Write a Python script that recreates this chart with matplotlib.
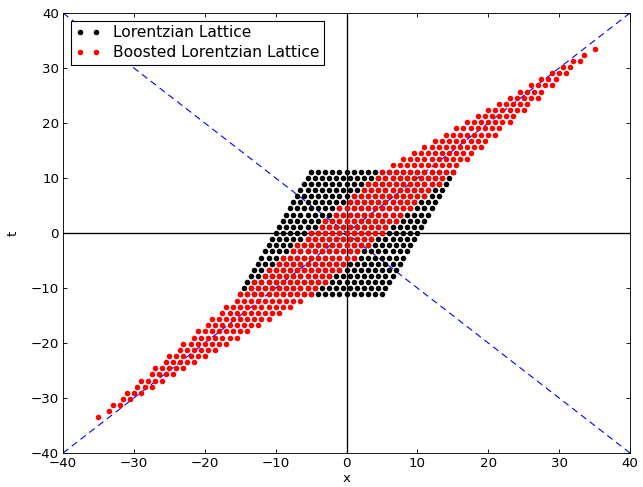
import numpy as np
import matplotlib
matplotlib.use("Agg")
import matplotlib.pyplot as plt

# lattice in light-cone coords: t + x = a + b*phi, t - x = -(a + b*phibar)
phi = (1 + np.sqrt(5)) / 2
phibar = (1 - np.sqrt(5)) / 2
a_range = np.arange(-10, 11)
b_range = np.arange(-10, 11)

# boost factor on the light cone (maps the lattice onto itself)
boost = phi ** 2

A, B = np.meshgrid(a_range, b_range)
u = A + B * phi
v = -(A + B * phibar)
x = (u - v) / 2
t = (u + v) / 2

ub = u * boost
vb = v / boost
xb = (ub - vb) / 2
tb = (ub + vb) / 2

fig = plt.figure(figsize=(643 / 80, 487 / 80), dpi=80)
ax = fig.add_axes([63 / 643, 34 / 487, 567 / 643, 440 / 487])

ax.plot([-40, 40], [-40, 40], "b--", lw=1, dashes=(6, 4))
ax.plot([-40, 40], [40, -40], "b--", lw=1, dashes=(6, 4))
ax.axhline(0, color="k", lw=1.2)
ax.axvline(0, color="k", lw=1.2)

ax.plot(x.ravel(), t.ravel(), "o", color="k", ms=5, mew=0,
        label="Lorentzian Lattice")
ax.plot(xb.ravel(), tb.ravel(), "o", color="r", ms=5, mew=0,
        label="Boosted Lorentzian Lattice")

ax.set_xlim(-40, 40)
ax.set_ylim(-40, 40)
ax.set_xticks(range(-40, 41, 10))
ax.set_yticks(range(-40, 41, 10))
ax.tick_params(direction="in", top=True, right=True, labelsize=12, length=4)
ax.set_xlabel("x", fontsize=12, labelpad=2)
ax.set_ylabel("t", fontsize=12, labelpad=10)

leg = ax.legend(loc="upper left", numpoints=2, fontsize=14, fancybox=False,
                framealpha=1, borderaxespad=0.5, handlelength=1.6,
                handletextpad=0.8, borderpad=0.3, labelspacing=0.3)
leg.get_frame().set_edgecolor("k")

fig.savefig("out.png", dpi=80)
